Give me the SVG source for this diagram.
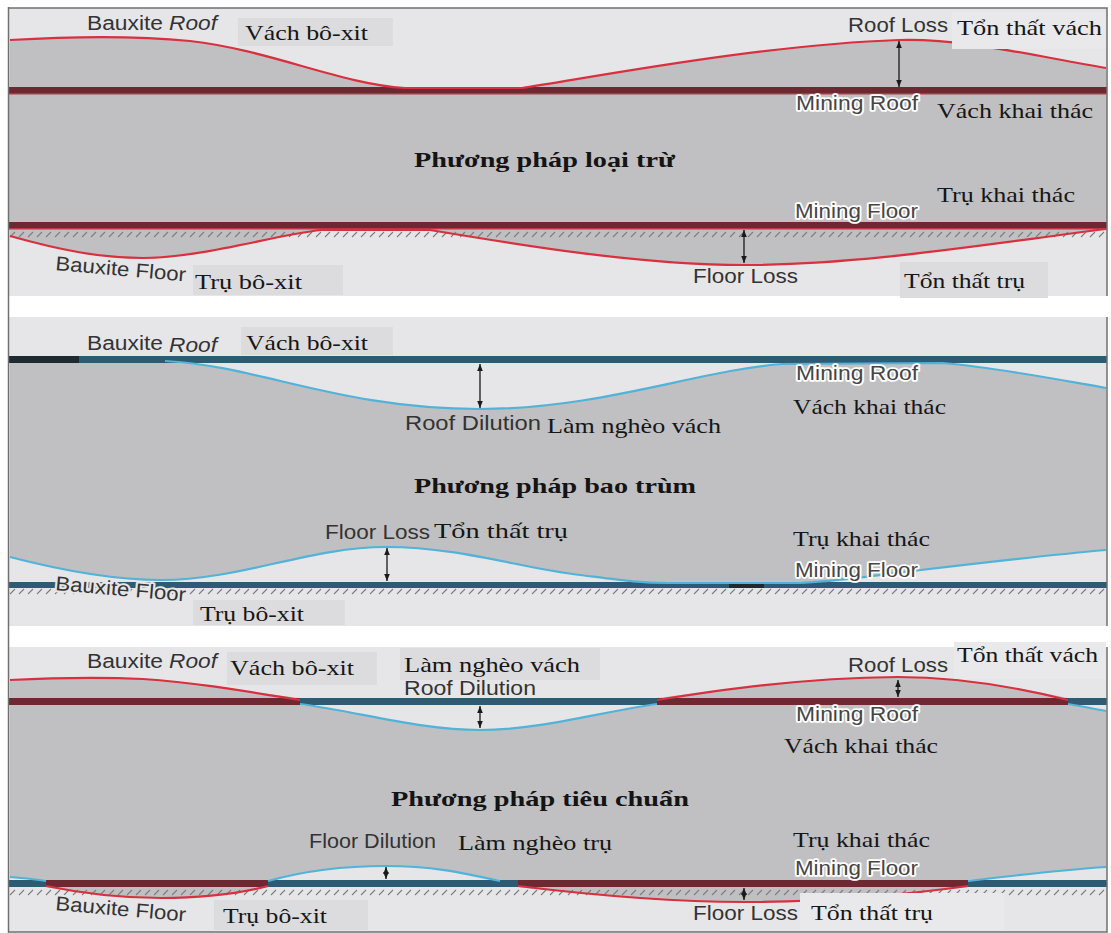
<svg xmlns="http://www.w3.org/2000/svg" width="1111" height="933" viewBox="0 0 1111 933">
<style>
.en{font-family:"Liberation Sans",Arial,sans-serif;font-size:20px;fill:#333333}
.it{font-style:italic}
.vn{font-family:"Liberation Serif","Times New Roman",serif;font-size:22px;fill:#161616}
.tt{font-family:"Liberation Serif","Times New Roman",serif;font-size:22px;font-weight:bold;fill:#141414}
.halo{font-family:"Liberation Sans",Arial,sans-serif;font-size:20px;fill:#454545;stroke:#fff;stroke-width:3.5;stroke-linejoin:round;paint-order:stroke}
.lhalo{stroke:#e6e6e8;stroke-width:4;stroke-linejoin:round;paint-order:stroke}
.light{fill:#e6e6e8}
.gray{fill:#c0c0c2}
.box{fill:#dcdcde}
.box2{fill:#e9e9eb}
.rband{fill:#6e2832}
.bband{fill:#2c5b73}
.rc{fill:none;stroke:#d8303f;stroke-width:2.2}
.bc{fill:none;stroke:#52b2d8;stroke-width:2.2}
.arr{stroke:#1a1a1a;stroke-width:1.3;marker-start:url(#ah);marker-end:url(#ah)}
.hatch{fill:url(#hatch)}
.border{stroke:#707070;stroke-width:1.5;fill:none}
</style>
<defs>
<marker id="ah" viewBox="0 0 10 8" refX="10" refY="4" markerWidth="7" markerHeight="5.6" orient="auto-start-reverse" markerUnits="userSpaceOnUse"><path d="M0,0 L10,4 L0,8 Z" fill="#1a1a1a"/></marker>
<pattern id="hatch" width="9" height="7" patternUnits="userSpaceOnUse"><line x1="1" y1="6" x2="6" y2="1" stroke="#7c7c7c" stroke-width="1.1"/></pattern>
</defs>
<rect x="0" y="0" width="1111" height="933" fill="#ffffff"/>

<!-- Panel 1 : Phuong phap loai tru -->
<g id="panel1">
<rect class="light" x="9" y="8" width="1098" height="288"/>
<path class="gray" d="M10,40 C60,37 130,35 190,41 C270,50 340,84 405,88 L522,88 C600,76 760,45 899,40 C960,38 1030,55 1106,68 L1106,90 L10,90 Z"/>
<rect class="gray" x="9" y="90" width="1098" height="140"/>
<path class="gray" d="M10,229 L10,236 C60,250 100,258 143,258 C200,258 275,235 321,230 L430,230 C520,245 640,265 744,265 C860,265 980,245 1106,229 Z"/>
<rect class="hatch" x="9" y="231" width="1098" height="7"/>
<rect class="rband" x="9" y="87" width="1098" height="7"/>
<rect x="9" y="93" width="1098" height="1.5" fill="#a83a48"/>
<rect class="rband" x="9" y="222" width="1098" height="7"/>
<rect x="9" y="228" width="1098" height="1.5" fill="#c03545"/>
<path class="rc" d="M10,40 C60,37 130,35 190,41 C270,50 340,84 405,88 L522,88 C600,76 760,45 899,40 C960,38 1030,55 1106,68"/>
<path class="rc" d="M10,236 C60,250 100,258 143,258 C200,258 275,235 321,230 L430,230 C520,245 640,265 744,265 C860,265 980,245 1106,229"/>
<rect class="box" x="238" y="18" width="155" height="28"/>
<rect class="box2" x="952" y="12" width="154" height="37"/>
<rect class="box" x="900" y="262" width="148" height="36"/>
<rect class="box" x="193" y="265" width="150" height="30"/>
<line class="arr" x1="899" y1="41" x2="899" y2="87"/>
<line class="arr" x1="744" y1="230" x2="744" y2="263"/>
<text class="en" x="87" y="30" textLength="76" lengthAdjust="spacingAndGlyphs">Bauxite</text>
<text class="en it" x="169" y="30" textLength="48" lengthAdjust="spacingAndGlyphs">Roof</text>
<text class="vn" x="245" y="40" textLength="123" lengthAdjust="spacingAndGlyphs">Vách bô-xit</text>
<text class="en" x="848" y="32" textLength="100" lengthAdjust="spacingAndGlyphs">Roof Loss</text>
<text class="vn" x="957" y="35" textLength="145" lengthAdjust="spacingAndGlyphs">Tổn thất vách</text>
<text class="halo" x="796" y="110" textLength="122" lengthAdjust="spacingAndGlyphs">Mining Roof</text>
<text class="vn" x="937" y="118" textLength="156" lengthAdjust="spacingAndGlyphs">Vách khai thác</text>
<text class="tt" x="414" y="167" textLength="261" lengthAdjust="spacingAndGlyphs">Phương pháp loại trừ</text>
<text class="vn" x="937" y="202" textLength="138" lengthAdjust="spacingAndGlyphs">Trụ khai thác</text>
<text class="halo" x="795" y="218" textLength="123" lengthAdjust="spacingAndGlyphs">Mining Floor</text>
<text class="en" x="693" y="283" textLength="105" lengthAdjust="spacingAndGlyphs">Floor Loss</text>
<text class="vn" x="904" y="288" textLength="121" lengthAdjust="spacingAndGlyphs">Tổn thất trụ</text>
<text class="en lhalo" transform="translate(55,270) rotate(5)" textLength="131" lengthAdjust="spacingAndGlyphs">Bauxite Floor</text>
<text class="vn" x="195" y="289" textLength="107" lengthAdjust="spacingAndGlyphs">Trụ bô-xit</text>
<path class="border" d="M9,8 L1107,8 L1107,296"/>
</g>

<!-- Panel 2 : Phuong phap bao trum -->
<g id="panel2">
<rect class="light" x="9" y="317" width="1098" height="309"/>
<path class="gray" d="M10,362 L165,362 C260,366 340,409 480,409 C600,409 700,370 782,364 L943,363 C1000,368 1060,380 1106,388 L1106,550 C1050,555 980,563 921,570 C900,572 850,580 800,583 L668,583 C640,582 620,580 580,575 C520,568 460,547 386,547 C310,547 240,580 161,580 C110,580 60,570 10,557 Z"/>
<rect class="hatch" x="9" y="588" width="1098" height="7"/>
<rect class="bband" x="9" y="356" width="1098" height="7"/>
<rect x="9" y="356" width="70" height="7" fill="#1e2a30"/>
<rect class="bband" x="9" y="582" width="1098" height="6"/>
<rect x="729" y="582" width="35" height="6" fill="#1e2a30"/>
<path class="bc" d="M165,361 C260,366 340,409 480,409 C600,409 700,370 782,364 L943,363 C1000,368 1060,380 1106,388"/>
<path class="bc" d="M10,557 C60,570 110,580 161,580 C240,580 310,547 386,547 C460,547 520,568 580,575 C620,580 640,583 668,583 L800,583 C850,580 900,572 921,570 C980,563 1050,555 1106,550"/>
<rect class="box" x="241" y="327" width="152" height="28"/>
<rect class="box" x="193" y="600" width="152" height="25"/>
<line class="arr" x1="480" y1="364" x2="480" y2="408"/>
<line class="arr" x1="387" y1="548" x2="387" y2="581"/>
<text class="en" x="87" y="350" textLength="76" lengthAdjust="spacingAndGlyphs">Bauxite</text>
<text class="en it" x="169" y="352" textLength="48" lengthAdjust="spacingAndGlyphs">Roof</text>
<text class="vn" x="246" y="350" textLength="122" lengthAdjust="spacingAndGlyphs">Vách bô-xit</text>
<text class="halo" x="796" y="380" textLength="122" lengthAdjust="spacingAndGlyphs">Mining Roof</text>
<text class="en" x="405" y="430" textLength="136" lengthAdjust="spacingAndGlyphs">Roof Dilution</text>
<text class="vn" x="547" y="433" textLength="174" lengthAdjust="spacingAndGlyphs">Làm nghèo vách</text>
<text class="vn" x="793" y="414" textLength="153" lengthAdjust="spacingAndGlyphs">Vách khai thác</text>
<text class="tt" x="414" y="493" textLength="282" lengthAdjust="spacingAndGlyphs">Phương pháp bao trùm</text>
<text class="en" x="325" y="539" textLength="105" lengthAdjust="spacingAndGlyphs">Floor Loss</text>
<text class="vn" x="434" y="538" textLength="134" lengthAdjust="spacingAndGlyphs">Tổn thất trụ</text>
<text class="vn" x="793" y="546" textLength="137" lengthAdjust="spacingAndGlyphs">Trụ khai thác</text>
<text class="halo" x="795" y="577" textLength="123" lengthAdjust="spacingAndGlyphs">Mining Floor</text>
<text class="en lhalo" transform="translate(55,590) rotate(5)" textLength="131" lengthAdjust="spacingAndGlyphs">Bauxite Floor</text>
<text class="vn" x="200" y="621" textLength="104" lengthAdjust="spacingAndGlyphs">Trụ bô-xit</text>
<path class="border" d="M1107,317 L1107,626"/>
</g>

<!-- Panel 3 : Phuong phap tieu chuan -->
<g id="panel3">
<rect class="light" x="9" y="647" width="1098" height="285"/>
<path class="gray" d="M10,698 L10,680 C50,678 100,677 143,679 C200,683 250,692 300,698 Z"/>
<path class="gray" d="M657,698 C720,690 800,678 898,677 C960,677 1020,688 1068,698 Z"/>
<path class="gray" d="M10,705 L300,705 C360,712 420,730 480,730 C540,730 600,712 657,705 L1068,705 C1085,707 1095,709 1106,711 L1106,867 C1060,870 1010,876 968,880 L500,880 C460,872 430,866 386,866 C340,866 300,872 268,880 L46,880 C35,879 20,878 10,877 Z"/>
<path class="gray" d="M46,887 C80,893 120,898 161,898 C210,898 245,892 268,887 Z"/>
<path class="gray" d="M518,887 C600,896 680,902 744,902 C830,902 910,894 968,887 Z"/>
<rect class="hatch" x="9" y="889" width="1098" height="7"/>
<rect class="rband" x="9" y="698" width="291" height="7"/>
<rect class="bband" x="300" y="698" width="357" height="7"/>
<rect class="rband" x="657" y="698" width="411" height="7"/>
<rect class="bband" x="1068" y="698" width="39" height="7"/>
<rect class="bband" x="9" y="880" width="37" height="7"/>
<rect class="rband" x="46" y="880" width="222" height="7"/>
<rect class="bband" x="268" y="880" width="250" height="7"/>
<rect class="rband" x="518" y="880" width="450" height="7"/>
<rect class="bband" x="968" y="880" width="139" height="7"/>
<path class="rc" d="M10,680 C50,678 100,677 143,679 C200,683 250,692 300,700"/>
<path class="rc" d="M657,700 C720,690 800,678 898,677 C960,677 1020,688 1068,700"/>
<path class="bc" d="M300,704 C360,712 420,730 480,730 C540,730 600,712 657,704"/>
<path class="bc" d="M1068,704 C1085,707 1095,709 1106,711"/>
<path class="bc" d="M10,877 C20,878 35,879 46,881"/>
<path class="bc" d="M268,881 C300,872 340,866 386,866 C430,866 460,872 500,881"/>
<path class="bc" d="M968,881 C1010,876 1060,870 1106,867"/>
<path class="rc" d="M46,886 C80,893 120,898 161,898 C210,898 245,892 268,886"/>
<path class="rc" d="M518,886 C600,896 680,902 744,902 C830,902 910,894 968,886"/>
<text class="en" x="404" y="695" textLength="132" lengthAdjust="spacingAndGlyphs">Roof Dilution</text>
<rect class="box" x="227" y="652" width="150" height="33"/>
<rect class="box" x="400" y="648" width="200" height="32"/>
<rect class="box2" x="954" y="642" width="152" height="37"/>
<rect class="box" x="214" y="900" width="154" height="30"/>
<rect class="box2" x="800" y="893" width="204" height="37"/>
<line class="arr" x1="480" y1="706" x2="480" y2="728"/>
<line class="arr" x1="898" y1="680" x2="898" y2="697"/>
<line class="arr" x1="386" y1="867" x2="386" y2="879"/>
<line class="arr" x1="744" y1="888" x2="744" y2="900"/>
<text class="en" x="87" y="668" textLength="76" lengthAdjust="spacingAndGlyphs">Bauxite</text>
<text class="en it" x="169" y="668" textLength="48" lengthAdjust="spacingAndGlyphs">Roof</text>
<text class="vn" x="230" y="675" textLength="124" lengthAdjust="spacingAndGlyphs">Vách bô-xit</text>
<text class="vn" x="404" y="672" textLength="176" lengthAdjust="spacingAndGlyphs">Làm nghèo vách</text>
<text class="en" x="848" y="672" textLength="100" lengthAdjust="spacingAndGlyphs">Roof Loss</text>
<text class="vn" x="957" y="662" textLength="141" lengthAdjust="spacingAndGlyphs">Tổn thất vách</text>
<text class="halo" x="796" y="721" textLength="122" lengthAdjust="spacingAndGlyphs">Mining Roof</text>
<text class="vn" x="784" y="753" textLength="154" lengthAdjust="spacingAndGlyphs">Vách khai thác</text>
<text class="tt" x="391" y="806" textLength="298" lengthAdjust="spacingAndGlyphs">Phương pháp tiêu chuẩn</text>
<text class="en" x="309" y="848" textLength="127" lengthAdjust="spacingAndGlyphs">Floor Dilution</text>
<text class="vn" x="458" y="850" textLength="154" lengthAdjust="spacingAndGlyphs">Làm nghèo trụ</text>
<text class="vn" x="793" y="847" textLength="137" lengthAdjust="spacingAndGlyphs">Trụ khai thác</text>
<text class="halo" x="795" y="875" textLength="123" lengthAdjust="spacingAndGlyphs">Mining Floor</text>
<text class="en lhalo" transform="translate(55,910) rotate(5)" textLength="131" lengthAdjust="spacingAndGlyphs">Bauxite Floor</text>
<text class="vn" x="223" y="923" textLength="104" lengthAdjust="spacingAndGlyphs">Trụ bô-xit</text>
<text class="en" x="693" y="920" textLength="105" lengthAdjust="spacingAndGlyphs">Floor Loss</text>
<text class="vn" x="811" y="920" textLength="122" lengthAdjust="spacingAndGlyphs">Tổn thất trụ</text>
<path class="border" d="M1107,647 L1107,932 L9,932"/>
</g>
<line class="border" x1="8.5" y1="7" x2="8.5" y2="933"/>
</svg>
